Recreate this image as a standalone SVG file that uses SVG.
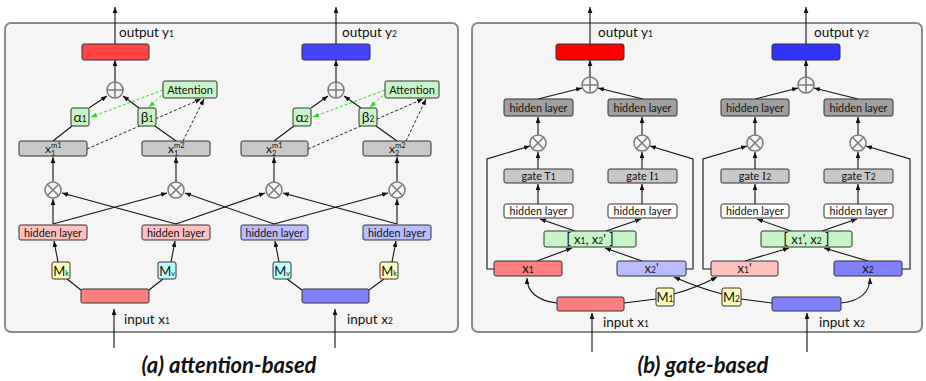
<svg xmlns="http://www.w3.org/2000/svg" width="926" height="381" viewBox="0 0 926 381">
<style>
text{font-family:Lato,"Open Sans","DejaVu Sans",sans-serif;fill:#111}
.panel{fill:#f5f5f5;stroke:#8a8a8a;stroke-width:2}
.box{stroke:#333;stroke-width:1}
.l{fill:none;stroke:#111;stroke-width:1.1}
.a{marker-end:url(#ah)}
.dk{stroke-dasharray:3,2;stroke-width:0.9}
.dg{fill:none;stroke:#22dd22;stroke-dasharray:3,2;stroke-width:1;marker-end:url(#ahg)}
.op{fill:none;stroke:#7a7a7a;stroke-width:1.5}
.t10{font-size:10.8px;text-anchor:middle}
.t11{font-size:11px;text-anchor:middle}
.t12{font-size:13.5px}
.c{text-anchor:middle}
.s{font-size:8.5px}
.cap{font-size:22px;font-style:italic;font-weight:bold;text-anchor:middle}
.g{fill:#c8f5c8}.gr{fill:#c8c8c8}.dg2{fill:#a0a0a0}.y{fill:#ffffbb}.cy{fill:#bbffff}
.pk{fill:#ffc0c0}.lb{fill:#bbbbff}.r8{fill:#ff8080}.b8{fill:#8080ff}.w{fill:#fff}
</style>
<defs>
<marker id="ah" viewBox="0 0 10 8" refX="10" refY="4" markerWidth="6" markerHeight="5" orient="auto" markerUnits="userSpaceOnUse"><path d="M0,0 L10,4 L0,8 z" fill="#111"/></marker>
<marker id="ahg" viewBox="0 0 10 8" refX="10" refY="4" markerWidth="6" markerHeight="5" orient="auto" markerUnits="userSpaceOnUse"><path d="M0,0 L10,4 L0,8 z" fill="#22dd22"/></marker>
</defs>

<rect id="panel-a" class="panel" x="5" y="23" width="453" height="309" rx="6"/>
<rect id="panel-b" class="panel" x="472" y="23" width="450" height="309" rx="6"/>

<g id="connectors">
<line class="l a" x1="115" y1="44" x2="115" y2="7"/>
<line class="l a" x1="336" y1="44" x2="336" y2="7"/>
<line class="l a" x1="115" y1="82" x2="115" y2="60"/>
<line class="l a" x1="336" y1="82" x2="336" y2="60"/>
<line class="l a" x1="89" y1="108" x2="107" y2="96"/>
<line class="l a" x1="139" y1="108" x2="123" y2="96"/>
<line class="l a" x1="311" y1="108" x2="328" y2="96"/>
<line class="l a" x1="361" y1="108" x2="344" y2="96"/>
<line class="dg" x1="163" y1="90" x2="91" y2="117"/>
<line class="dg" x1="165" y1="92" x2="149" y2="107"/>
<line class="dg" x1="385" y1="90" x2="313" y2="117"/>
<line class="dg" x1="387" y1="92" x2="370" y2="107"/>
<line class="l a dk" x1="87" y1="149" x2="201" y2="99"/>
<line class="l a dk" x1="183" y1="141" x2="204" y2="99"/>
<line class="l a dk" x1="308" y1="149" x2="423" y2="99"/>
<line class="l a dk" x1="406" y1="141" x2="426" y2="99"/>
<line class="l" x1="53" y1="141" x2="72" y2="126"/>
<line class="l" x1="155" y1="126" x2="176" y2="141"/>
<line class="l" x1="274" y1="141" x2="294" y2="126"/>
<line class="l" x1="376" y1="126" x2="397" y2="141"/>
<line class="l a" x1="53" y1="182" x2="53" y2="157"/>
<line class="l a" x1="176" y1="182" x2="176" y2="157"/>
<line class="l a" x1="274" y1="182" x2="274" y2="157"/>
<line class="l a" x1="397" y1="182" x2="397" y2="157"/>
<line class="l a" x1="53" y1="224" x2="53" y2="199"/>
<line class="l a" x1="53" y1="224" x2="167" y2="193"/>
<line class="l a" x1="176" y1="224" x2="62" y2="193"/>
<line class="l a" x1="176" y1="224" x2="265" y2="193"/>
<line class="l a" x1="274" y1="224" x2="185" y2="193"/>
<line class="l a" x1="274" y1="224" x2="388" y2="193"/>
<line class="l a" x1="397" y1="224" x2="397" y2="199"/>
<line class="l a" x1="397" y1="224" x2="283" y2="193"/>
<line class="l a" x1="58" y1="262" x2="54" y2="241"/>
<line class="l a" x1="171" y1="262" x2="175" y2="241"/>
<line class="l a" x1="279" y1="262" x2="275" y2="241"/>
<line class="l a" x1="392" y1="262" x2="396" y2="241"/>
<line class="l" x1="81" y1="290" x2="67" y2="279"/>
<line class="l" x1="149" y1="290" x2="163" y2="279"/>
<line class="l" x1="302" y1="290" x2="287" y2="279"/>
<line class="l" x1="369" y1="290" x2="384" y2="279"/>
<line class="l a" x1="114" y1="348" x2="114" y2="309"/>
<line class="l a" x1="335" y1="348" x2="335" y2="309"/>

<line class="l a" x1="590" y1="44" x2="590" y2="7"/>
<line class="l a" x1="806" y1="44" x2="806" y2="7"/>
<line class="l a" x1="590" y1="77" x2="590" y2="60"/>
<line class="l a" x1="806" y1="77" x2="806" y2="60"/>
<line class="l a" x1="538" y1="99" x2="582" y2="88"/>
<line class="l a" x1="643" y1="99" x2="598" y2="88"/>
<line class="l a" x1="755" y1="99" x2="798" y2="88"/>
<line class="l a" x1="858" y1="99" x2="814" y2="88"/>
<line class="l a" x1="538" y1="135" x2="538" y2="117"/>
<line class="l a" x1="642" y1="135" x2="642" y2="117"/>
<line class="l a" x1="755" y1="135" x2="755" y2="117"/>
<line class="l a" x1="858" y1="135" x2="858" y2="117"/>
<line class="l a" x1="538" y1="169" x2="538" y2="152"/>
<line class="l a" x1="642" y1="169" x2="642" y2="152"/>
<line class="l a" x1="755" y1="169" x2="755" y2="152"/>
<line class="l a" x1="858" y1="169" x2="858" y2="152"/>
<line class="l a" x1="538" y1="204" x2="538" y2="184"/>
<line class="l a" x1="642" y1="204" x2="642" y2="184"/>
<line class="l a" x1="755" y1="204" x2="755" y2="184"/>
<line class="l a" x1="858" y1="204" x2="858" y2="184"/>
<line class="l a" x1="575" y1="231" x2="540" y2="219"/>
<line class="l a" x1="606" y1="231" x2="641" y2="219"/>
<line class="l a" x1="791" y1="231" x2="757" y2="219"/>
<line class="l a" x1="822" y1="231" x2="857" y2="219"/>
<line class="l a" x1="537" y1="261" x2="572" y2="248"/>
<line class="l a" x1="642" y1="261" x2="605" y2="248"/>
<line class="l a" x1="745" y1="261" x2="789" y2="248"/>
<line class="l a" x1="868" y1="261" x2="824" y2="248"/>
<path class="l a" d="M494,269 H487 V159 L530,146"/>
<path class="l a" d="M686,269 H693 V159 L650,146"/>
<path class="l a" d="M711,269 H703 V159 L747,146"/>
<path class="l a" d="M902,269 H910 V159 L866,146"/>
<path class="l a" d="M557,303 C538,301 527,292 527,278"/>
<path class="l a" d="M841,303 C860,301 870,292 870,278"/>
<path class="l" d="M624,303 L656,299"/>
<path class="l a" d="M674,294 Q696,288 717,277"/>
<path class="l" d="M772,303 L741,299"/>
<path class="l a" d="M722,294 Q699,288 674,277"/>
<line class="l a" x1="592" y1="352" x2="592" y2="313"/>
<line class="l a" x1="807" y1="352" x2="807" y2="313"/>
</g>

<g id="out1a"><rect class="box" x="82" y="44" width="67" height="16" rx="2" fill="#ff4444"/><text class="t12" x="119" y="37">output y<tspan class="s">1</tspan></text></g>
<g id="out2a"><rect class="box" x="302" y="44" width="68" height="16" rx="2" fill="#4444ff"/><text class="t12" x="342" y="37">output y<tspan class="s">2</tspan></text></g>
<g id="oplus1a"><circle class="op" cx="115" cy="90" r="8"/><path class="op" d="M107,90 H123 M115,82 V98"/></g>
<g id="oplus2a"><circle class="op" cx="336" cy="90" r="8"/><path class="op" d="M328,90 H344 M336,82 V98"/></g>
<g id="att1"><rect class="box g" x="163" y="81" width="54" height="17" rx="2"/><text class="t11" x="190" y="93.5">Attention</text></g>
<g id="att2"><rect class="box g" x="385" y="81" width="54" height="17" rx="2"/><text class="t11" x="412" y="93.5">Attention</text></g>
<g id="alpha1"><rect class="box g" x="71" y="108" width="18" height="18" rx="2"/><text class="c" x="80" y="121.5" font-size="14">α<tspan class="s">1</tspan></text></g>
<g id="beta1"><rect class="box g" x="138" y="108" width="18" height="18" rx="2"/><text class="c" x="147" y="121.5" font-size="14">β<tspan class="s">1</tspan></text></g>
<g id="alpha2"><rect class="box g" x="293" y="108" width="18" height="18" rx="2"/><text class="c" x="302" y="121.5" font-size="14">α<tspan class="s">2</tspan></text></g>
<g id="beta2"><rect class="box g" x="359" y="108" width="18" height="18" rx="2"/><text class="c" x="368" y="121.5" font-size="14">β<tspan class="s">2</tspan></text></g>

<g id="x1m1"><rect class="box gr" x="19" y="141" width="68" height="15" rx="2"/><text x="45" y="153" font-size="12">x</text><text x="51" y="148" font-size="7.5">m1</text><text x="51" y="156" font-size="7.5">1</text></g>
<g id="x1m2"><rect class="box gr" x="142" y="141" width="68" height="15" rx="2"/><text x="168" y="153" font-size="12">x</text><text x="174" y="148" font-size="7.5">m2</text><text x="174" y="156" font-size="7.5">1</text></g>
<g id="x2m1"><rect class="box gr" x="241" y="141" width="67" height="15" rx="2"/><text x="266" y="153" font-size="12">x</text><text x="272" y="148" font-size="7.5">m1</text><text x="272" y="156" font-size="7.5">2</text></g>
<g id="x2m2"><rect class="box gr" x="363" y="141" width="68" height="15" rx="2"/><text x="389" y="153" font-size="12">x</text><text x="395" y="148" font-size="7.5">m2</text><text x="395" y="156" font-size="7.5">2</text></g>

<g id="otimes1a"><circle class="op" cx="53" cy="190" r="8"/><path class="op" d="M47.3,184.3 L58.7,195.7 M58.7,184.3 L47.3,195.7"/></g>
<g id="otimes2a"><circle class="op" cx="176" cy="190" r="8"/><path class="op" d="M170.3,184.3 L181.7,195.7 M181.7,184.3 L170.3,195.7"/></g>
<g id="otimes3a"><circle class="op" cx="274" cy="190" r="8"/><path class="op" d="M268.3,184.3 L279.7,195.7 M279.7,184.3 L268.3,195.7"/></g>
<g id="otimes4a"><circle class="op" cx="397" cy="190" r="8"/><path class="op" d="M391.3,184.3 L402.7,195.7 M402.7,184.3 L391.3,195.7"/></g>

<g id="hid1a"><rect class="box pk" x="19" y="225" width="68" height="15" rx="2"/><text class="t10" x="53" y="236.5">hidden layer</text></g>
<g id="hid2a"><rect class="box pk" x="142" y="225" width="68" height="15" rx="2"/><text class="t10" x="176" y="236.5">hidden layer</text></g>
<g id="hid3a"><rect class="box lb" x="241" y="225" width="67" height="15" rx="2"/><text class="t10" x="274.5" y="236.5">hidden layer</text></g>
<g id="hid4a"><rect class="box lb" x="363" y="225" width="68" height="15" rx="2"/><text class="t10" x="397" y="236.5">hidden layer</text></g>

<g id="mk1"><rect class="box y" x="52" y="262" width="18" height="17" rx="2"/><text class="c" x="61" y="275.5" font-size="13">M<tspan font-size="7">k</tspan></text></g>
<g id="mv1"><rect class="box cy" x="158" y="262" width="18" height="17" rx="2"/><text class="c" x="167" y="275.5" font-size="13">M<tspan font-size="7">v</tspan></text></g>
<g id="mv2"><rect class="box cy" x="273" y="262" width="18" height="17" rx="2"/><text class="c" x="282" y="275.5" font-size="13">M<tspan font-size="7">v</tspan></text></g>
<g id="mk2"><rect class="box y" x="380" y="262" width="18" height="17" rx="2"/><text class="c" x="389" y="275.5" font-size="13">M<tspan font-size="7">k</tspan></text></g>

<g id="in1a"><rect class="box r8" x="81" y="289" width="68" height="14" rx="2"/><text class="t12" x="124" y="324">input x<tspan class="s">1</tspan></text></g>
<g id="in2a"><rect class="box b8" x="302" y="289" width="67" height="14" rx="2"/><text class="t12" x="347" y="324">input x<tspan class="s">2</tspan></text></g>

<text class="cap" x="229" y="373">(a) attention-based</text>

<g id="out1b"><rect class="box" x="556" y="44" width="68" height="16" rx="2" fill="#ff0000"/><text class="t12" x="598" y="37">output y<tspan class="s">1</tspan></text></g>
<g id="out2b"><rect class="box" x="772" y="44" width="68" height="16" rx="2" fill="#3333ff"/><text class="t12" x="814" y="37">output y<tspan class="s">2</tspan></text></g>
<g id="oplus1b"><circle class="op" cx="590" cy="85" r="8"/><path class="op" d="M582,85 H598 M590,77 V93"/></g>
<g id="oplus2b"><circle class="op" cx="806" cy="85" r="8"/><path class="op" d="M798,85 H814 M806,77 V93"/></g>

<g id="hd1b"><rect class="box dg2" x="504" y="99" width="69" height="17" rx="2"/><text class="t10" x="538.5" y="111.5">hidden layer</text></g>
<g id="hd2b"><rect class="box dg2" x="608" y="99" width="69" height="17" rx="2"/><text class="t10" x="642.5" y="111.5">hidden layer</text></g>
<g id="hd3b"><rect class="box dg2" x="721" y="99" width="68" height="17" rx="2"/><text class="t10" x="755" y="111.5">hidden layer</text></g>
<g id="hd4b"><rect class="box dg2" x="824" y="99" width="69" height="17" rx="2"/><text class="t10" x="858.5" y="111.5">hidden layer</text></g>

<g id="otimes1b"><circle class="op" cx="538" cy="143" r="8"/><path class="op" d="M532.3,137.3 L543.7,148.7 M543.7,137.3 L532.3,148.7"/></g>
<g id="otimes2b"><circle class="op" cx="642" cy="143" r="8"/><path class="op" d="M636.3,137.3 L647.7,148.7 M647.7,137.3 L636.3,148.7"/></g>
<g id="otimes3b"><circle class="op" cx="755" cy="143" r="8"/><path class="op" d="M749.3,137.3 L760.7,148.7 M760.7,137.3 L749.3,148.7"/></g>
<g id="otimes4b"><circle class="op" cx="858" cy="143" r="8"/><path class="op" d="M852.3,137.3 L863.7,148.7 M863.7,137.3 L852.3,148.7"/></g>

<g id="gateT1"><rect class="box gr" x="504" y="169" width="69" height="14" rx="2"/><text class="t10" x="538.5" y="180">gate T<tspan class="s">1</tspan></text></g>
<g id="gateI1"><rect class="box gr" x="608" y="169" width="69" height="14" rx="2"/><text class="t10" x="642.5" y="180">gate <tspan font-family="Liberation Serif" font-size="12.5">I</tspan><tspan class="s">1</tspan></text></g>
<g id="gateI2"><rect class="box gr" x="721" y="169" width="68" height="14" rx="2"/><text class="t10" x="755" y="180">gate <tspan font-family="Liberation Serif" font-size="12.5">I</tspan><tspan class="s">2</tspan></text></g>
<g id="gateT2"><rect class="box gr" x="824" y="169" width="69" height="14" rx="2"/><text class="t10" x="858.5" y="180">gate T<tspan class="s">2</tspan></text></g>

<g id="hw1b"><rect class="box w" x="504" y="204" width="69" height="14" rx="2"/><text class="t10" x="538.5" y="215">hidden layer</text></g>
<g id="hw2b"><rect class="box w" x="608" y="204" width="69" height="14" rx="2"/><text class="t10" x="642.5" y="215">hidden layer</text></g>
<g id="hw3b"><rect class="box w" x="721" y="204" width="68" height="14" rx="2"/><text class="t10" x="755" y="215">hidden layer</text></g>
<g id="hw4b"><rect class="box w" x="824" y="204" width="69" height="14" rx="2"/><text class="t10" x="858.5" y="215">hidden layer</text></g>

<g id="cat1"><rect class="box g" x="544" y="231" width="92" height="16" rx="2"/><text class="c" x="590" y="244" font-size="13"><tspan font-size="15">[</tspan> x<tspan class="s">1</tspan>, x<tspan class="s">2</tspan>' <tspan font-size="15">]</tspan></text></g>
<g id="cat2"><rect class="box g" x="761" y="231" width="91" height="16" rx="2"/><text class="c" x="806.5" y="244" font-size="13"><tspan font-size="15">[</tspan> x<tspan class="s">1</tspan>', x<tspan class="s">2</tspan> <tspan font-size="15">]</tspan></text></g>

<g id="x1b"><rect class="box r8" x="494" y="261" width="68" height="15" rx="2"/><text class="c" x="528" y="273" font-size="13">x<tspan class="s">1</tspan></text></g>
<g id="x2pb"><rect class="box lb" x="617" y="261" width="69" height="15" rx="2"/><text class="c" x="651.5" y="273" font-size="13">x<tspan class="s">2</tspan>'</text></g>
<g id="x1pb"><rect class="box pk" x="711" y="261" width="67" height="15" rx="2"/><text class="c" x="744.5" y="273" font-size="13">x<tspan class="s">1</tspan>'</text></g>
<g id="x2b"><rect class="box b8" x="834" y="261" width="68" height="15" rx="2"/><text class="c" x="868" y="273" font-size="13">x<tspan class="s">2</tspan></text></g>

<g id="M1"><rect class="box y" x="656" y="288" width="18" height="18" rx="2"/><text class="c" x="665" y="302" font-size="13">M<tspan class="s">1</tspan></text></g>
<g id="M2"><rect class="box y" x="722" y="288" width="19" height="18" rx="2"/><text class="c" x="731.5" y="302" font-size="13">M<tspan class="s">2</tspan></text></g>

<g id="in1b"><rect class="box r8" x="557" y="297" width="67" height="14" rx="2"/><text class="t12" x="603" y="327">input x<tspan class="s">1</tspan></text></g>
<g id="in2b"><rect class="box b8" x="772" y="297" width="69" height="14" rx="2"/><text class="t12" x="819" y="327">input x<tspan class="s">2</tspan></text></g>

<text class="cap" x="703" y="373">(b) gate-based</text>
</svg>
